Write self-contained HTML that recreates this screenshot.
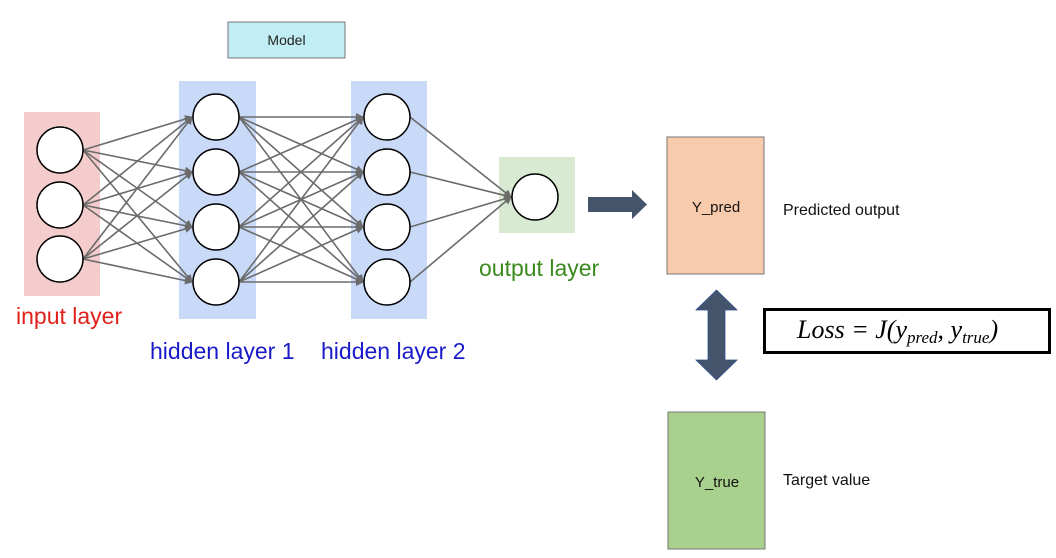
<!DOCTYPE html>
<html><head><meta charset="utf-8"><style>
html,body{margin:0;padding:0;background:#fff;}
svg{display:block;}
</style></head><body>
<svg width="1056" height="558" viewBox="0 0 1056 558" xmlns="http://www.w3.org/2000/svg" font-family="Liberation Sans, sans-serif">
<defs>
<marker id="ah" markerWidth="8" markerHeight="8" refX="7" refY="4" orient="auto" markerUnits="userSpaceOnUse">
<path d="M0,0 L8,4 L0,8 Z" fill="#6b6b6b"/>
</marker>
</defs>
<rect x="228" y="22" width="117" height="36" fill="#c0eef4" stroke="#777" stroke-width="1"/>
<text x="286.5" y="45" font-size="14" text-anchor="middle" fill="#222">Model</text>

<rect x="24" y="112" width="76" height="184" fill="#f4cccc"/>
<rect x="179" y="81" width="77" height="238" fill="#c9daf8"/>
<rect x="351" y="81" width="76" height="238" fill="#c9daf8"/>
<rect x="499" y="157" width="76" height="76" fill="#d9ead3"/>

<g stroke="#6b6b6b" stroke-width="1.6" marker-end="url(#ah)" fill="none">
<line x1="83" y1="150" x2="192" y2="117"/><line x1="83" y1="150" x2="192" y2="172"/><line x1="83" y1="150" x2="192" y2="227"/><line x1="83" y1="150" x2="192" y2="282"/>
<line x1="83" y1="205" x2="192" y2="117"/><line x1="83" y1="205" x2="192" y2="172"/><line x1="83" y1="205" x2="192" y2="227"/><line x1="83" y1="205" x2="192" y2="282"/>
<line x1="83" y1="259" x2="192" y2="117"/><line x1="83" y1="259" x2="192" y2="172"/><line x1="83" y1="259" x2="192" y2="227"/><line x1="83" y1="259" x2="192" y2="282"/>
<line x1="239" y1="117" x2="363" y2="117"/><line x1="239" y1="117" x2="363" y2="172"/><line x1="239" y1="117" x2="363" y2="227"/><line x1="239" y1="117" x2="363" y2="282"/>
<line x1="239" y1="172" x2="363" y2="117"/><line x1="239" y1="172" x2="363" y2="172"/><line x1="239" y1="172" x2="363" y2="227"/><line x1="239" y1="172" x2="363" y2="282"/>
<line x1="239" y1="227" x2="363" y2="117"/><line x1="239" y1="227" x2="363" y2="172"/><line x1="239" y1="227" x2="363" y2="227"/><line x1="239" y1="227" x2="363" y2="282"/>
<line x1="239" y1="282" x2="363" y2="117"/><line x1="239" y1="282" x2="363" y2="172"/><line x1="239" y1="282" x2="363" y2="227"/><line x1="239" y1="282" x2="363" y2="282"/>
<line x1="410" y1="117" x2="511" y2="197"/><line x1="410" y1="172" x2="511" y2="197"/><line x1="410" y1="227" x2="511" y2="197"/><line x1="410" y1="282" x2="511" y2="197"/>
</g>

<g fill="#fff" stroke="#000" stroke-width="1.5">
<circle cx="60" cy="150" r="23"/><circle cx="60" cy="205" r="23"/><circle cx="60" cy="259" r="23"/>
<circle cx="216" cy="117" r="23"/><circle cx="216" cy="172" r="23"/><circle cx="216" cy="227" r="23"/><circle cx="216" cy="282" r="23"/>
<circle cx="387" cy="117" r="23"/><circle cx="387" cy="172" r="23"/><circle cx="387" cy="227" r="23"/><circle cx="387" cy="282" r="23"/>
<circle cx="535" cy="197" r="23"/>
</g>

<text x="16" y="324" font-size="23" fill="#e0201a">input layer</text>
<text x="150" y="359" font-size="23" fill="#1a1ac8">hidden layer 1</text>
<text x="321" y="359" font-size="23" fill="#1a1ac8">hidden layer 2</text>
<text x="479" y="276" font-size="23" fill="#3a8a1e">output layer</text>

<polygon points="588,197 632,197 632,190 647,204.5 632,219 632,212 588,212" fill="#44546a"/>

<rect x="667" y="137" width="97" height="137" fill="#f8cbad" stroke="#777" stroke-width="1"/>
<text x="716" y="212" font-size="15" text-anchor="middle" fill="#111">Y_pred</text>
<text x="783" y="215" font-size="16" fill="#111">Predicted output</text>

<polygon points="716.5,290 737,310 725,310 725,360 737,360 716.5,380 696,360 708,360 708,310 696,310" fill="#44546a" stroke="#2f4f8f" stroke-width="0.8"/>

<rect x="764.5" y="309.5" width="285" height="43" fill="#fff" stroke="#000" stroke-width="3"/>
<text x="797" y="338" font-size="26" font-style="italic" font-family="Liberation Serif, serif" fill="#000">Loss = J(y<tspan font-size="17" dy="5">pred</tspan><tspan dy="-5">, y</tspan><tspan font-size="17" dy="5">true</tspan><tspan dy="-5">)</tspan></text>

<rect x="668" y="412" width="97" height="137" fill="#a9d18e" stroke="#777" stroke-width="1"/>
<text x="717" y="487" font-size="15" text-anchor="middle" fill="#111">Y_true</text>
<text x="783" y="485" font-size="16" fill="#111">Target value</text>
</svg>
</body></html>
